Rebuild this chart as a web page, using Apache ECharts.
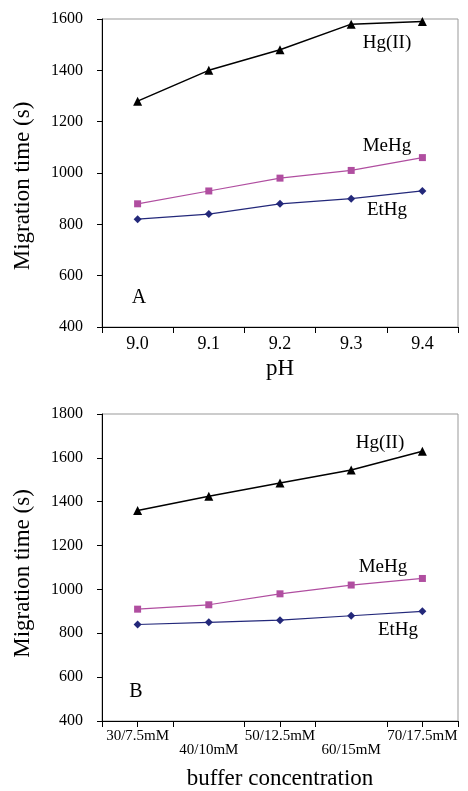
<!DOCTYPE html>
<html>
<head>
<meta charset="utf-8">
<script src="https://cdn.jsdelivr.net/npm/echarts@6/dist/echarts.min.js"></script>
<style>
  html, body { margin: 0; padding: 0; background: #fff; }
  #chart { width: 468px; height: 791px; }
</style>
</head>
<body>
<div id="chart"></div>
<script>
// panel A: pH
const phLabels = ['9.0', '9.1', '9.2', '9.3', '9.4'];
const hgA = [1280, 1400, 1480, 1580, 1590];
const meHgA = [880, 930, 980, 1010, 1060];
const etHgA = [820, 840, 880, 900, 930];

// panel B: buffer concentration
const bufferLabels = ['30/7.5mM', '40/10mM', '50/12.5mM', '60/15mM', '70/17.5mM'];
const hgB = [1360, 1425, 1485, 1545, 1630];
const meHgB = [910, 930, 980, 1020, 1050];
const etHgB = [840, 850, 860, 880, 900];

const yTicksA = { min: 400, max: 1600, interval: 200 };
const yTicksB = { min: 400, max: 1800, interval: 200 };

const FONT = 'Liberation Serif';
const BLACK = '#000';
const MAGENTA = '#b04ea0';
const NAVY = '#23287a';

const chart = echarts.init(document.getElementById('chart'));

function yAxis(gridIndex, ticks, namePad) {
  return {
    type: 'value',
    gridIndex,
    min: ticks.min,
    max: ticks.max,
    interval: ticks.interval,
    name: 'Migration time (s)',
    nameLocation: 'middle',
    nameGap: 68,
    nameTextStyle: { fontFamily: FONT, fontSize: 23, color: BLACK, padding: namePad },
    axisLine: { show: true, lineStyle: { color: BLACK, width: 1 } },
    axisTick: { show: true, length: 5, lineStyle: { color: BLACK, width: 1 } },
    axisLabel: { fontFamily: FONT, fontSize: 16, color: BLACK, margin: 19, formatter: v => String(v) },
    splitLine: { show: false }
  };
}

function lineSeries(name, data, idx, symbol, size, color, width) {
  return {
    name, type: 'line', data,
    xAxisIndex: idx, yAxisIndex: idx,
    symbol, symbolSize: size,
    itemStyle: { color },
    lineStyle: { color, width },
    animation: false
  };
}

const option = {
  animation: false,
  grid: [
    { left: 102, top: 19, width: 356, height: 308, show: true, borderColor: '#999', borderWidth: 1 },
    { left: 102, top: 414, width: 356, height: 307, show: true, borderColor: '#999', borderWidth: 1 }
  ],
  xAxis: [
    {
      type: 'category', gridIndex: 0, data: phLabels, boundaryGap: true, position: 'bottom',
      name: 'pH', nameLocation: 'middle', nameGap: 30,
      nameTextStyle: { fontFamily: FONT, fontSize: 23, color: BLACK },
      axisLine: { lineStyle: { color: BLACK } },
      axisTick: { show: true, length: 6, lineStyle: { color: BLACK, width: 1 } },
      axisLabel: { fontFamily: FONT, fontSize: 18, color: BLACK, margin: 8 }
    },
    {
      type: 'category', gridIndex: 1, data: bufferLabels, boundaryGap: true, position: 'bottom',
      name: 'buffer concentration', nameLocation: 'middle', nameGap: 46,
      nameTextStyle: { fontFamily: FONT, fontSize: 23, color: BLACK },
      axisLine: { lineStyle: { color: BLACK } },
      axisTick: { show: true, length: 6, lineStyle: { color: BLACK, width: 1 } },
      axisLabel: {
        fontFamily: FONT, fontSize: 15, color: BLACK, margin: 8, lineHeight: 14,
        interval: 0, verticalAlign: 'top',
        formatter: (v, i) => (i % 2 === 1 ? '\n' + v : v)
      }
    },
    {
      // centre ticks for panel B
      type: 'category', gridIndex: 1, data: bufferLabels, boundaryGap: true, position: 'bottom',
      axisLine: { show: false },
      axisTick: { show: true, alignWithLabel: true, length: 6, lineStyle: { color: BLACK, width: 1 } },
      axisLabel: { show: false }
    }
  ],
  yAxis: [yAxis(0, yTicksA, [0, 26, 0, 0]), yAxis(1, yTicksB, [0, 12, 0, 0])],
  series: [
    lineSeries('Hg(II)', hgA, 0, 'triangle', 9, BLACK, 1.5),
    lineSeries('MeHg', meHgA, 0, 'rect', 7, MAGENTA, 1.2),
    lineSeries('EtHg', etHgA, 0, 'diamond', 8, NAVY, 1.2),
    lineSeries('Hg(II)', hgB, 1, 'triangle', 9, BLACK, 1.5),
    lineSeries('MeHg', meHgB, 1, 'rect', 7, MAGENTA, 1.2),
    lineSeries('EtHg', etHgB, 1, 'diamond', 8, NAVY, 1.2)
  ],
  graphic: [
    ['Hg(II)', 387, 43, 19], ['MeHg', 387, 146, 19], ['EtHg', 387, 210, 19], ['A', 139, 298, 20],
    ['Hg(II)', 380, 443, 19], ['MeHg', 383, 567, 19], ['EtHg', 398, 630, 19], ['B', 136, 692, 20]
  ].map(([t, x, y, s]) => ({
    type: 'text', x, y,
    style: { text: t, fontFamily: FONT, fontSize: s, fill: BLACK, align: 'center', verticalAlign: 'middle' }
  }))
};

chart.setOption(option);
</script>
</body>
</html>
